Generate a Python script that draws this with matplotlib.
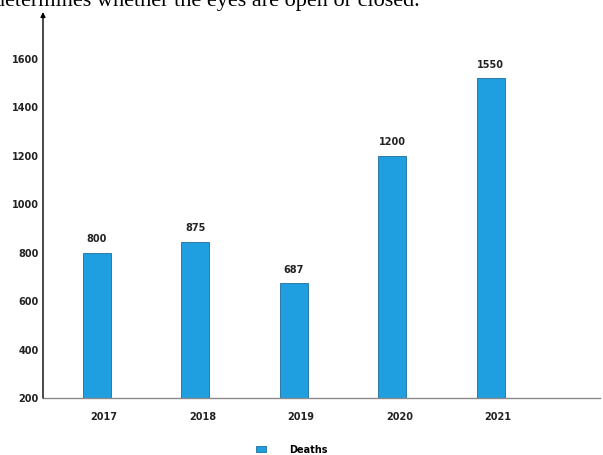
import matplotlib.pyplot as plt
import matplotlib.transforms as mtransforms
import numpy as np

# data
years = ['2017', '2018', '2019', '2020', '2021']
deaths = [800, 845, 675, 1200, 1518]          # bar heights as drawn
value_labels = ['800', '875', '687', '1200', '1550']   # numbers printed above bars
yticks = [200, 400, 600, 800, 1000, 1200, 1400, 1600]

fig = plt.figure(figsize=(6.03, 4.55), dpi=100)
ax = fig.add_axes([43 / 603, 57 / 455, 557 / 603, 386 / 455])

x = np.arange(len(years))
bars = ax.bar(x, deaths, width=0.285, color='#1f9fe0', edgecolor='#1b6d9c',
              linewidth=0.6, label='Deaths', zorder=2)

for xi, h, txt in zip(x, deaths, value_labels):
    ax.annotate(txt, (xi, h), xytext=(0, 9.5), textcoords='offset points',
                ha='center', va='center', fontsize=7, fontweight='bold',
                color='#222222')

ax.set_xlim(-0.549, 5.11)
ax.set_ylim(200, 1792)
ax.set_xticks(x)
ax.set_xticklabels(years)
ax.set_yticks(yticks)
ax.tick_params(axis='both', length=0, labelsize=7, colors='#222222')
ax.tick_params(axis='x', pad=10)
ax.tick_params(axis='y', pad=3)
for lbl in ax.get_xticklabels() + ax.get_yticklabels():
    lbl.set_fontweight('bold')
shift = mtransforms.ScaledTranslation(7 / 100, 0, fig.dpi_scale_trans)
for lbl in ax.get_xticklabels():
    lbl.set_transform(lbl.get_transform() + shift)

for s in ['top', 'right', 'left']:
    ax.spines[s].set_visible(False)
ax.spines['bottom'].set_color('#8a8a8a')
ax.spines['bottom'].set_linewidth(1.0)

# y axis drawn as an arrow
ax.annotate('', xy=(0, 1.0), xycoords='axes fraction', xytext=(0, 0),
            textcoords='axes fraction',
            arrowprops=dict(arrowstyle='-|>', color='black', lw=1.0,
                            mutation_scale=7, shrinkA=0, shrinkB=0))

ax.legend(loc='center', bbox_to_anchor=(0.484, 0.012), bbox_transform=fig.transFigure,
          frameon=False, handlelength=1.0, handleheight=0.6, handletextpad=2.4,
          prop={'size': 7, 'weight': 'bold'})

# sentence cut off at the top of the page
fig.text(-0.01, 449 / 455, 'determines whether the eyes are open or closed.',
         fontsize=16, family='Liberation Serif', va='baseline', ha='left',
         color='black')

fig.savefig('out.png', dpi=100)
